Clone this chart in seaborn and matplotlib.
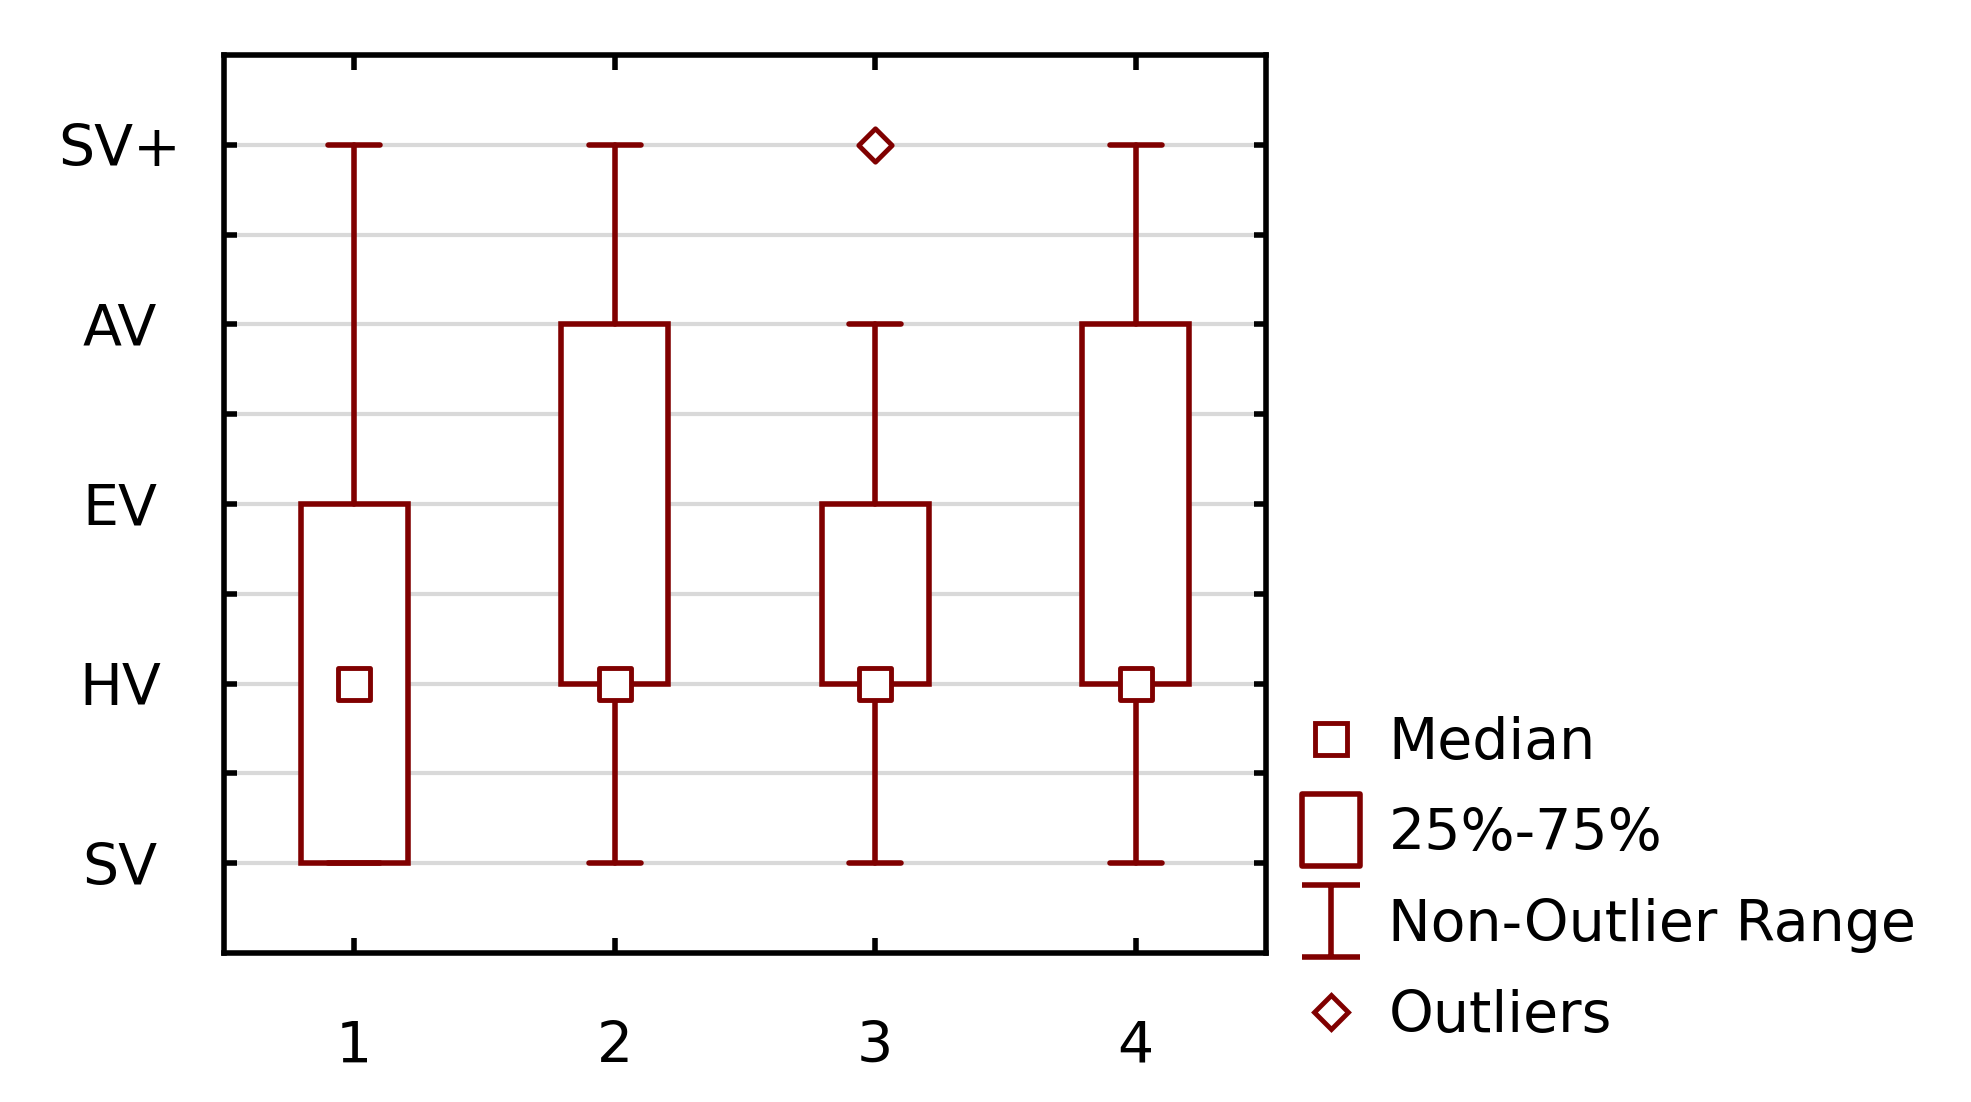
import pandas as pd
import matplotlib
matplotlib.use('Agg')
import matplotlib.pyplot as plt
from matplotlib.path import Path
from matplotlib.lines import Line2D
from matplotlib.ticker import FixedLocator
import seaborn as sns

# ─────────────────────────────────────────────
# DATA (box summaries, 1=SV ... 5=SV+)
# ─────────────────────────────────────────────
groups = [1, 2, 3, 4]
whisker_low = [1, 1, 1, 1]
quartile_1 = [1, 2, 2, 2]
medians = [2, 2, 2, 2]
quartile_3 = [3, 4, 3, 4]
whisker_high = [5, 5, 4, 5]
outlier_group = [3]
outlier_value = [5]
level_ticks = [1, 2, 3, 4, 5]
level_labels = ['SV', 'HV', 'EV', 'AV', 'SV+']
legend_labels = ['Median', '25%-75%', 'Non-Outlier Range', 'Outliers']

RED = '#800000'
FS = 41
LW = 4

sns.set_style('white')
plt.rcParams['font.family'] = ['DejaVu Sans']

fig = plt.figure(figsize=(19.71, 11.02), dpi=100)
ax = fig.add_axes([224 / 1971, 1 - 953 / 1102, (1266 - 224) / 1971, (953 - 55) / 1102])

# --- boxes + whiskers ---
stats = [dict(label=str(g), whislo=lo, q1=a, med=m, q3=b, whishi=hi, fliers=[])
         for g, lo, a, m, b, hi in zip(groups, whisker_low, quartile_1, medians,
                                        quartile_3, whisker_high)]
ax.bxp(stats, positions=groups, widths=0.41, capwidths=0.2, patch_artist=True,
       showfliers=False, manage_ticks=False,
       boxprops=dict(facecolor='white', edgecolor=RED, linewidth=LW),
       whiskerprops=dict(color=RED, linewidth=LW),
       capprops=dict(color=RED, linewidth=LW),
       medianprops=dict(linewidth=0))

# --- medians and outliers ---
med_df = pd.DataFrame({'group': groups, 'value': medians})
sns.scatterplot(data=med_df, x='group', y='value', marker='s', s=23 ** 2,
                color='white', edgecolor=RED, linewidth=3.5, ax=ax, zorder=5)
out_df = pd.DataFrame({'group': outlier_group, 'value': outlier_value})
sns.scatterplot(data=out_df, x='group', y='value', marker='D', s=17 ** 2,
                color='white', edgecolor=RED, linewidth=3.5, ax=ax, zorder=5)

# --- axes styling ---
ax.set_xlim(0.5, 4.5)
ax.set_ylim(0.5, 5.5)
ax.set_xticks(groups)
ax.set_xticklabels([str(g) for g in groups], fontsize=FS)
ax.set_yticks(level_ticks)
ax.set_yticklabels(level_labels, fontsize=FS)
ax.yaxis.set_minor_locator(FixedLocator([1.5, 2.5, 3.5, 4.5]))
for lbl in ax.get_yticklabels():
    lbl.set_horizontalalignment('center')
ax.set_xlabel(''); ax.set_ylabel('')

ax.tick_params(axis='y', which='both', direction='in', left=True, right=True,
               length=9, width=4, color='black', pad=75, labelcolor='black')
ax.tick_params(axis='x', which='major', direction='in', top=True, bottom=True,
               length=11, width=4, color='black', pad=48, labelcolor='black')
ax.grid(False)
ax.yaxis.grid(True, which='both', color='#d9d9d9', linewidth=3)
ax.set_axisbelow(True)
for sp in ax.spines.values():
    sp.set_color('black')
    sp.set_linewidth(4)

# --- legend ---
rect_marker = Path([(-0.4, -0.5), (0.4, -0.5), (0.4, 0.5), (-0.4, 0.5), (-0.4, -0.5)],
                   [Path.MOVETO, Path.LINETO, Path.LINETO, Path.LINETO, Path.CLOSEPOLY])
range_marker = Path([(-0.4, 0.5), (0.4, 0.5), (0, 0.5), (0, -0.5), (-0.4, -0.5), (0.4, -0.5)],
                    [Path.MOVETO, Path.LINETO, Path.MOVETO, Path.LINETO, Path.MOVETO, Path.LINETO])
handles = [
    Line2D([], [], ls='none', marker='s', ms=23, mfc='white', mec=RED, mew=3.5),
    Line2D([], [], ls='none', marker=rect_marker, ms=52, mfc='none', mec=RED, mew=LW),
    Line2D([], [], ls='none', marker=range_marker, ms=52, mfc='none', mec=RED, mew=LW),
    Line2D([], [], ls='none', marker='D', ms=17, mfc='white', mec=RED, mew=3.5),
]
fig.legend(handles, legend_labels, loc='center left',
           bbox_to_anchor=(1303 / 1971, 1 - 880 / 1102), frameon=False,
           fontsize=FS, handlelength=1.0, handletextpad=0.5, labelspacing=0.63,
           borderpad=0, borderaxespad=0, labelcolor='black')

plt.savefig('out.png', dpi=100)
plt.close()
